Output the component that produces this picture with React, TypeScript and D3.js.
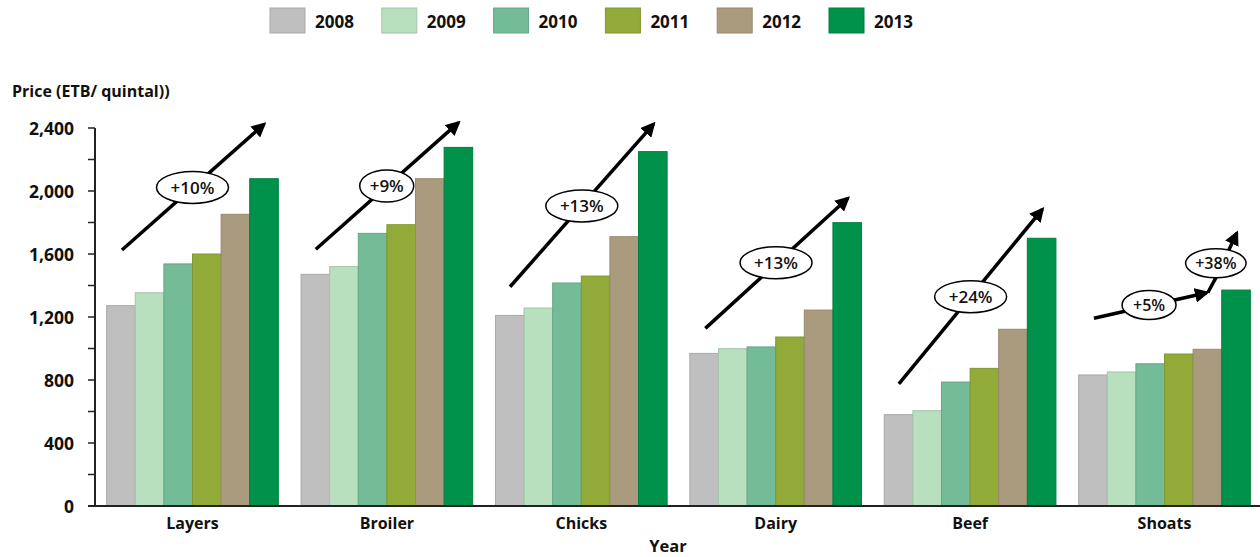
import React from "react";
import * as d3 from "d3";

// Livestock prices by product and year (ETB per quintal)
const categories = ["Layers", "Broiler", "Chicks", "Dairy", "Beef", "Shoats"];
const years = ["2008", "2009", "2010", "2011", "2012", "2013"];
const price2008 = [1272, 1471, 1210, 969, 580, 832];
const price2009 = [1354, 1520, 1257, 999, 605, 851];
const price2010 = [1537, 1731, 1416, 1010, 787, 903];
const price2011 = [1600, 1786, 1460, 1073, 874, 965];
const price2012 = [1852, 2078, 1710, 1244, 1122, 995];
const price2013 = [2078, 2277, 2250, 1799, 1700, 1371];
const seriesValues = [price2008, price2009, price2010, price2011, price2012, price2013];
const yTicks = [0, 400, 800, 1200, 1600, 2000, 2400];

// Trend arrows: category, then points as [fraction across the group, price]
const trendCategory = ["Layers", "Broiler", "Chicks", "Dairy", "Beef", "Shoats", "Shoats"];
const trendPoints: [number, number][][] = [
  [[0.089, 1625], [0.917, 2424]],
  [[0.086, 1630], [0.917, 2434]],
  [[0.085, 1392], [0.921, 2425]],
  [[0.09, 1128], [0.92, 1954]],
  [[0.085, 775], [0.921, 1884]],
  [[0.089, 1192], [0.746, 1354]],
  [[0.752, 1354], [0.799, 1448], [0.921, 1733]],
];

// Growth labels: category, text, anchor [fraction across the group, price]
const growthCategory = ["Layers", "Broiler", "Chicks", "Dairy", "Beef", "Shoats", "Shoats"];
const growthText = ["+10%", "+9%", "+13%", "+13%", "+24%", "+5%", "+38%"];
const growthAnchor: [number, number][] = [
  [0.5, 2023],
  [0.499, 2032],
  [0.503, 1905],
  [0.502, 1545],
  [0.503, 1329],
  [0.41, 1276],
  [0.799, 1541],
];

const colors = ["#bfbfbf", "#b8dfbe", "#74bc97", "#92ab38", "#ab9b7e", "#00914a"];

const W = 1260;
const H = 557;
const FONT = "'Open Sans', 'Noto Sans', sans-serif";

export default function App() {
  const x0 = d3
    .scaleBand<string>()
    .domain(categories)
    .range([95, 1262])
    .paddingInner(0.117)
    .paddingOuter(0.06);
  const x1 = d3.scaleBand<string>().domain(years).range([0, x0.bandwidth()]).padding(0);
  const y = d3.scaleLinear().domain([0, 2400]).range([506, 128]);
  const minorTicks = d3.range(0, 2401, 200);
  const fmt = d3.format(",");

  const px = (cat: string, f: number) => (x0(cat) as number) + f * x0.bandwidth();
  const line = d3
    .line<[number, number]>()
    .x((d) => d[0])
    .y((d) => d[1]);

  return (
    <svg
      width={W}
      height={H}
      style={{ position: "absolute", left: 0, top: 0, display: "block", background: "#fff" }}
      fontFamily={FONT}
    >
      <defs>
        <marker
          id="head"
          viewBox="0 0 10 10"
          refX="8"
          refY="5"
          markerWidth="4.2"
          markerHeight="4.2"
          orient="auto"
          markerUnits="strokeWidth"
        >
          <path d="M0,0 L10,5 L0,10 Z" fill="#000" />
        </marker>
      </defs>

      {/* Legend */}
      <g>
        {years.map((yr, i) => (
          <g key={yr} transform={`translate(${270 + i * 111.8},8)`}>
            <rect
              width={35}
              height={25}
              fill={colors[i]}
              stroke={d3.color(colors[i])!.darker(0.35).toString()}
              strokeWidth={1}
            />
            <text x={45} y={13} dominantBaseline="central" fontSize={17} fontWeight="bold" fill="#111">
              {yr}
            </text>
          </g>
        ))}
      </g>

      {/* Y axis title */}
      <text x={12} y={91} dominantBaseline="central" fontSize={16} fontWeight="bold" fill="#111">
        Price (ETB/ quintal))
      </text>

      {/* Bars */}
      {categories.map((cat, ci) => (
        <g key={cat} transform={`translate(${x0(cat)},0)`}>
          {years.map((yr, si) => {
            const v = seriesValues[si][ci];
            return (
              <rect
                key={yr}
                x={x1(yr)}
                y={y(v)}
                width={x1.bandwidth()}
                height={y(0) - y(v)}
                fill={colors[si]}
                stroke={d3.color(colors[si])!.darker(0.35).toString()}
                strokeWidth={1}
              />
            );
          })}
        </g>
      ))}

      {/* Y axis */}
      <g>
        <line x1={95} x2={95} y1={y(2400)} y2={y(0)} stroke="#222" strokeWidth={2} />
        {minorTicks.map((t) => (
          <line key={t} x1={88} x2={95} y1={y(t)} y2={y(t)} stroke="#222" strokeWidth={1.5} />
        ))}
        {yTicks.map((t) => (
          <text
            key={t}
            x={74}
            y={y(t)}
            textAnchor="end"
            dominantBaseline="central"
            fontSize={17.5}
            fontWeight="bold"
            fill="#111"
          >
            {fmt(t)}
          </text>
        ))}
      </g>

      {/* X axis */}
      <g>
        <line x1={88} x2={1260} y1={y(0)} y2={y(0)} stroke="#222" strokeWidth={2} />
        {categories.map((cat) => (
          <text
            key={cat}
            x={(x0(cat) as number) + x0.bandwidth() / 2}
            y={523}
            textAnchor="middle"
            dominantBaseline="central"
            fontSize={16}
            fontWeight="bold"
            fill="#111"
          >
            {cat}
          </text>
        ))}
        <text x={668} y={545} textAnchor="middle" dominantBaseline="central" fontSize={16.5} fontWeight="bold" fill="#111">
          Year
        </text>
      </g>

      {/* Trend arrows */}
      {trendPoints.map((pts, i) => (
        <path
          key={i}
          d={line(pts.map(([f, v]) => [px(trendCategory[i], f), y(v)] as [number, number])) as string}
          fill="none"
          stroke="#000"
          strokeWidth={3.5}
          strokeLinejoin="round"
          markerEnd="url(#head)"
        />
      ))}

      {/* Growth labels */}
      {growthText.map((t, i) => {
        const cx = px(growthCategory[i], growthAnchor[i][0]);
        const cy = y(growthAnchor[i][1]);
        const small = growthCategory[i] === "Shoats";
        const rx = t.length * 9 * (t.length > 3 && small ? 0.84 : 1);
        const ry = small ? 14.5 : 16;
        return (
          <g key={i}>
            <ellipse cx={cx} cy={cy} rx={rx} ry={ry} fill="#fff" stroke="#000" strokeWidth={1.5} />
            <text
              x={cx}
              y={cy}
              textAnchor="middle"
              dominantBaseline="central"
              fontSize={small ? 16 : 17}
              fontWeight={600}
              fill="#111"
            >
              {t}
            </text>
          </g>
        );
      })}
    </svg>
  );
}
